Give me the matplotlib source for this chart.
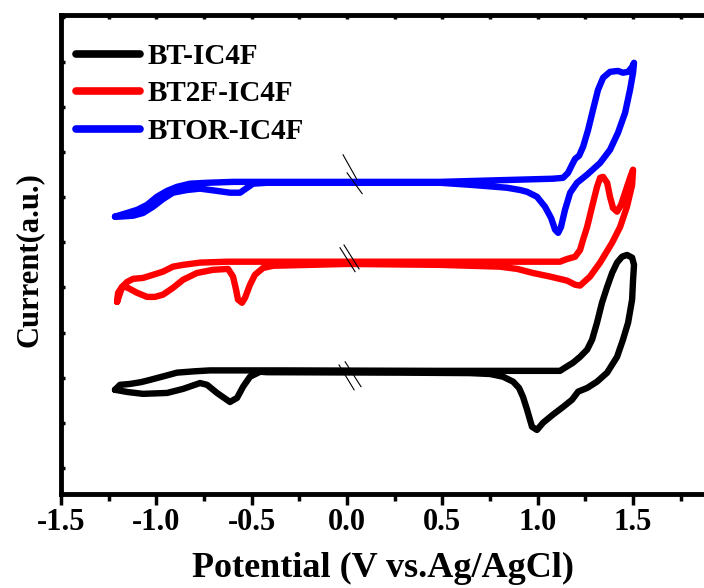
import matplotlib
matplotlib.use("Agg")
import matplotlib.pyplot as plt
from matplotlib.ticker import MultipleLocator, NullFormatter

plt.rcParams['font.family'] = ['Liberation Serif', 'DejaVu Serif']
plt.rcParams['font.weight'] = 'bold'
plt.rcParams['axes.unicode_minus'] = False

# Cyclic voltammograms (potential in V vs Ag/AgCl, current in arbitrary offset units)
bt_v = [-1.217, -1.191, -1.138, -1.080, -1.033, -0.944, -0.892, -0.800, -0.719, -0.351,
        0.488, 1.117, 1.143, 1.185, 1.222, 1.259, 1.285, 1.311, 1.337, 1.364,
        1.390, 1.416, 1.442, 1.468, 1.495, 1.505, 1.500, 1.495, 1.474, 1.447,
        1.416, 1.364, 1.311, 1.259, 1.212, 1.180, 1.133, 1.080, 1.028, 0.996,
        0.970, 0.944, 0.923, 0.902, 0.871, 0.818, 0.750, 0.645, 0.278, -0.420,
        -0.456, -0.509, -0.545, -0.577, -0.614, -0.682, -0.734, -0.771, -0.860, -0.944,
        -1.070, -1.150, -1.217]
bt_i = [1.73, 1.84, 1.86, 1.90, 1.95, 2.05, 2.11, 2.14, 2.16, 2.16,
        2.15, 2.15, 2.22, 2.33, 2.46, 2.62, 2.84, 3.22, 3.66, 4.01,
        4.32, 4.55, 4.68, 4.72, 4.66, 4.50, 4.17, 3.73, 3.22, 2.84,
        2.46, 2.11, 1.91, 1.77, 1.69, 1.51, 1.35, 1.18, 1.00, 0.84,
        0.91, 1.29, 1.57, 1.77, 1.91, 2.02, 2.08, 2.10, 2.11, 2.12,
        2.13, 2.02, 1.80, 1.55, 1.46, 1.66, 1.84, 1.88, 1.75, 1.66,
        1.64, 1.68, 1.73]

bt2f_v = [-1.206, -1.201, -1.180, -1.154, -1.122, -1.070, -1.017, -0.965, -0.913, -0.860,
          -0.771, -0.629, -0.351, 0.488, 1.117, 1.154, 1.196, 1.222, 1.238, 1.259,
          1.285, 1.311, 1.327, 1.343, 1.364, 1.379, 1.395, 1.416, 1.437, 1.458,
          1.484, 1.500, 1.495, 1.468, 1.432, 1.390, 1.327, 1.274, 1.222, 1.196,
          1.154, 1.065, 0.975, 0.892, 0.802, 0.488, 0.000, -0.388, -0.441, -0.483,
          -0.509, -0.535, -0.551, -0.572, -0.582, -0.598, -0.624, -0.703, -0.787, -0.860,
          -0.913, -0.965, -1.007, -1.049, -1.101, -1.154, -1.180, -1.206]
bt2f_i = [3.68, 3.88, 4.01, 4.12, 4.19, 4.21, 4.28, 4.35, 4.46, 4.50,
          4.55, 4.57, 4.57, 4.57, 4.57, 4.63, 4.68, 4.83, 5.06, 5.34,
          5.79, 6.23, 6.43, 6.45, 6.32, 6.01, 5.76, 5.68, 5.83, 6.10,
          6.43, 6.61, 6.27, 5.79, 5.34, 4.99, 4.55, 4.24, 4.04, 4.06,
          4.15, 4.24, 4.32, 4.41, 4.46, 4.50, 4.52, 4.48, 4.43, 4.28,
          4.06, 3.77, 3.66, 3.73, 3.95, 4.24, 4.41, 4.39, 4.32, 4.17,
          3.99, 3.84, 3.79, 3.79, 3.88, 4.00, 4.01, 3.68]

btor_v = [-1.217, -1.154, -1.101, -1.049, -0.997, -0.944, -0.892, -0.823, -0.734, -0.598,
          -0.351, 0.488, 1.080, 1.133, 1.159, 1.180, 1.196, 1.217, 1.238, 1.264,
          1.290, 1.316, 1.343, 1.379, 1.421, 1.447, 1.474, 1.495, 1.505, 1.500,
          1.484, 1.458, 1.421, 1.379, 1.327, 1.259, 1.206, 1.170, 1.143, 1.122,
          1.107, 1.091, 1.070, 1.038, 0.996, 0.944, 0.907, 0.839, 0.661, 0.488,
          -0.420, -0.493, -0.524, -0.561, -0.614, -0.682, -0.771, -0.839, -0.913, -0.965,
          -1.017, -1.070, -1.122, -1.191, -1.217]
btor_i = [5.57, 5.65, 5.72, 5.83, 6.01, 6.14, 6.23, 6.30, 6.32, 6.34,
          6.34, 6.34, 6.41, 6.43, 6.54, 6.72, 6.85, 6.92, 7.12, 7.49,
          7.94, 8.38, 8.65, 8.78, 8.80, 8.76, 8.78, 8.89, 8.98, 8.76,
          8.38, 7.87, 7.43, 7.05, 6.76, 6.50, 6.32, 6.10, 5.72, 5.34,
          5.21, 5.28, 5.54, 5.79, 6.01, 6.12, 6.16, 6.21, 6.27, 6.32,
          6.32, 6.30, 6.21, 6.10, 6.10, 6.14, 6.19, 6.16, 6.10, 5.96,
          5.79, 5.65, 5.59, 5.57, 5.57]

labels = ['BT-IC4F', 'BT2F-IC4F', 'BTOR-IC4F']
colors = ['#000000', '#ff0000', '#0000ff']

fig = plt.figure(figsize=(7.04, 5.88), dpi=100)
ax = fig.add_axes([0.0867, 0.1599, 0.9133, 0.8146])

for v, i, lab, c in zip([bt_v, bt2f_v, btor_v], [bt_i, bt2f_i, btor_i], labels, colors):
    ax.plot(v, i, color=c, lw=4.6, label=lab, solid_joinstyle='round',
            solid_capstyle='round')

# axis-break marks at 0 V
breaks = [
    ([-0.021, 0.052], [6.94, 6.39]), ([0.000, 0.079], [6.54, 6.08]),
    ([-0.037, 0.042], [4.88, 4.35]), ([-0.016, 0.063], [4.94, 4.41]),
    ([-0.042, 0.037], [2.28, 1.73]), ([-0.010, 0.073], [2.35, 1.80]),
]
for bx, by in breaks:
    ax.plot(bx, by, color='black', lw=0.8, zorder=5)

ax.set_xlim(-1.5, 1.872)
ax.set_ylim(-0.58, 10.04)

ax.xaxis.set_major_locator(MultipleLocator(0.5))
ax.xaxis.set_minor_locator(MultipleLocator(0.25))
ax.yaxis.set_major_locator(MultipleLocator(1))
ax.yaxis.set_major_formatter(NullFormatter())

for side in ['left', 'bottom', 'top']:
    ax.spines[side].set_linewidth(3.5)
ax.spines['right'].set_visible(False)

ax.tick_params(axis='x', which='major', direction='out', length=8, width=2.5,
               labelsize=22, pad=2, top=False)
ax.tick_params(axis='x', which='minor', direction='out', length=5, width=2.5, top=False)
ax.tick_params(axis='y', which='major', direction='in', length=3, width=2.5,
               left=True, right=False)

# small inward ticks along the top spine
top = ax.secondary_xaxis('top')
top.xaxis.set_major_locator(MultipleLocator(0.25))
top.xaxis.set_major_formatter(NullFormatter())
top.tick_params(direction='in', length=3, width=2.5)
top.spines['top'].set_visible(False)

for lbl in ax.get_xticklabels():
    lbl.set_fontweight('bold')

ax.set_xlabel('Potential (V vs.Ag/AgCl)', fontsize=26, fontweight='bold', labelpad=11)
ax.set_ylabel('Current(a.u.)', fontsize=22, fontweight='bold')
ax.yaxis.set_label_coords(-0.027, 0.49)

leg = ax.legend(loc='upper left', bbox_to_anchor=(0.0, 0.972), frameon=False,
                fontsize=21, handlelength=2.2, handletextpad=0.25,
                labelspacing=0.36, borderaxespad=0.1)
for t in leg.get_texts():
    t.set_fontweight('bold')
for h in leg.get_lines():
    h.set_linewidth(5.5)

fig.savefig('out.png', dpi=100)
